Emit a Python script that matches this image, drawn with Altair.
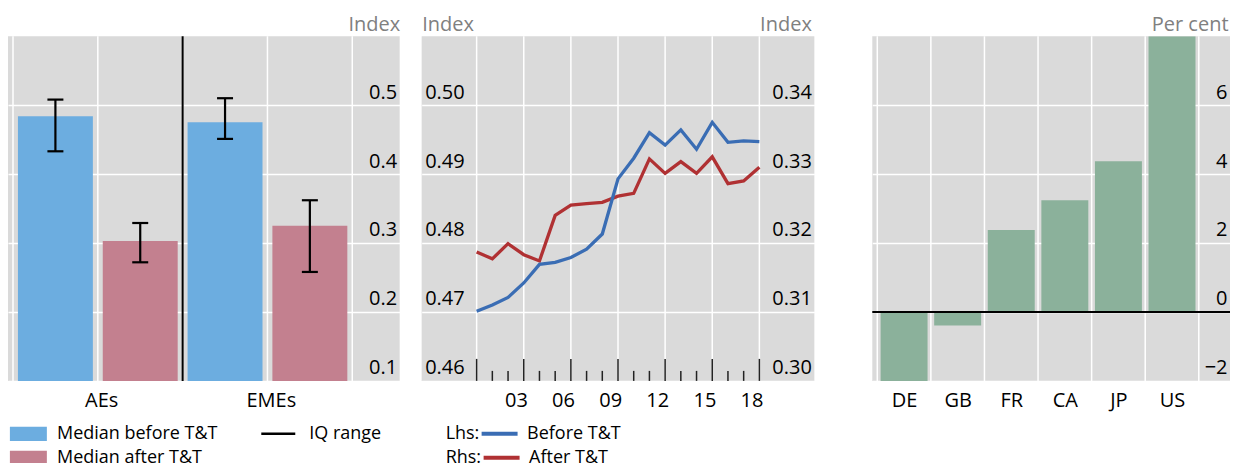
import altair as alt
import pandas as pd

FONT = "Open Sans"
FS = 20
FS_LEG = 18
GREY_BG = "#dadada"
TITLE_GREY = "#808080"
BLUE_BAR = "#6cade0"
PINK_BAR = "#c3808f"
GREEN_BAR = "#8bb19b"
BLUE_LINE = "#3a6db4"
RED_LINE = "#b03133"
SYM_SIZE = 196  # symbol layout box 14 px; the paths below draw the real shapes
RECT_PATH = "M-2.643,-1.021H2.643V1.021H-2.643Z"
LINE36_PATH = "M-2.571,0H2.571"
LINE34_PATH = "M-2.429,0H2.429"

# ---------------- Left panel data ----------------
bar_series = ["Median before T&T", "Median after T&T", "Median before T&T", "Median after T&T"]
bar_pos = [0.5, 1.5, 2.5, 3.5]
bar_median = [0.484, 0.303, 0.475, 0.325]
bar_iq_low = [0.433, 0.272, 0.451, 0.258]
bar_iq_high = [0.508, 0.329, 0.510, 0.362]
group_names = ["AEs", "EMEs"]
group_pos = [1.04, 3.04]
group_separator = [2]
left_grid_x = [0, 1, 2, 3, 4]
left_ticks = [0.1, 0.2, 0.3, 0.4, 0.5]

# ---------------- Middle panel data ----------------
years = list(range(2000, 2019))
before_tt = [0.4701, 0.4710, 0.4721, 0.4742, 0.4769, 0.4772, 0.4779, 0.4791, 0.4813, 0.4893,
             0.4923, 0.4960, 0.4942, 0.4964, 0.4936, 0.4975, 0.4946, 0.4948, 0.4947]
after_tt = [0.3187, 0.3177, 0.3199, 0.3183, 0.3174, 0.3240, 0.3255, 0.3257, 0.3259, 0.3268,
            0.3272, 0.3322, 0.3301, 0.3318, 0.3301, 0.3325, 0.3286, 0.3290, 0.3310]
year_labels = ["03", "06", "09", "12", "15", "18"]
year_label_pos = [2002.5, 2005.5, 2008.5, 2011.5, 2014.5, 2017.5]
mid_grid_x = [2000, 2003, 2006, 2009, 2012, 2015, 2018]
lhs_ticks = [0.46, 0.47, 0.48, 0.49, 0.50]
rhs_ticks = [0.30, 0.31, 0.32, 0.33, 0.34]

# ---------------- Right panel data ----------------
countries = ["DE", "GB", "FR", "CA", "JP", "US"]
country_pos = [0.5, 1.5, 2.5, 3.5, 4.5, 5.5]
country_change = [-2.0, -0.39, 2.38, 3.24, 4.37, 8.0]
right_grid_x = [0, 1, 2, 3, 4, 5, 6]
right_ticks = [-2, 0, 2, 4, 6]
baseline = [0]

PANEL_H = 345
RIGHT_W = 358
PANEL_VIEW = alt.ViewBackground(fill=GREY_BG, stroke=None)


def label_expr(positions, labels):
    expr = "''"
    for p, l in reversed(list(zip(positions, labels))):
        expr = f"(abs(datum.value - {p}) < 0.001 ? '{l}' : {expr})"
    return expr


def y_axis(values, fmt, orient, title, grid=True, title_dx=0):
    left = orient == "left"
    return alt.Axis(
        orient=orient, values=values, format=fmt, title=title,
        grid=grid, gridColor="white", gridWidth=1.5,
        domain=False, ticks=False, tickSize=0,
        labelAlign="left" if left else "right", labelPadding=-3,
        labelBaseline="alphabetic", labelOffset=-7,
        labelFontSize=FS, labelColor="black", labelOverlap=False, labelFlush=False,
        titleAngle=0, titleX=title_dx, titleY=-6,
        titleAlign="left" if left else "right", titleBaseline="alphabetic",
        titleFontSize=FS, titleFontWeight="normal", titleColor=TITLE_GREY,
    )


def x_axis(values, labels):
    return alt.Axis(
        orient="bottom", values=values, labelExpr=label_expr(values, labels),
        grid=False, domain=False, ticks=False, tickSize=0,
        labelPadding=26, labelBaseline="alphabetic", labelFontSize=FS,
        labelColor="black", labelAngle=0, title=None,
        labelOverlap=False, labelFlush=False,
    )


def legend(x, y, symbol, title=None, stroke_w=None, label_offset=20, title_pad=11):
    kw = dict(orient="none", legendX=x, legendY=y, symbolType=symbol, symbolSize=SYM_SIZE,
              labelFontSize=FS_LEG, labelColor="black", labelOffset=label_offset, padding=0,
              symbolOpacity=1, labelLimit=400)
    if title:
        kw.update(title=title, titleOrient="left", titleFontSize=FS_LEG, titleFontWeight="normal",
                  titleColor="black", titlePadding=title_pad, titleAnchor="middle",
                  titleBaseline="middle")
    else:
        kw.update(title=None)
    if stroke_w:
        kw["symbolStrokeWidth"] = stroke_w
    return alt.Legend(**kw)


ROW1_Y = 389
ROW2_Y = 413

# ---------------- Left panel ----------------
left_df = pd.DataFrame({"series": bar_series, "pos": bar_pos, "median": bar_median,
                        "low": bar_iq_low, "high": bar_iq_high})
left_df["iq"] = "IQ range"
xl = alt.Scale(domain=[0, 4.5])
yl = alt.Scale(domain=[0.1, 0.6], zero=False)
xl_axis = x_axis(group_pos, group_names)
yl_axis = y_axis(left_ticks, ".1f", "right", "Index")

grid_l = alt.Chart(pd.DataFrame({"g": left_grid_x})).mark_rule(color="white", strokeWidth=1.5).encode(
    x=alt.X("g:Q", scale=xl, axis=xl_axis))

before_bars = alt.Chart(left_df).transform_filter(alt.datum.series == bar_series[0]).mark_bar(
    size=75, clip=True).encode(
    x=alt.X("pos:Q", scale=xl, axis=xl_axis),
    y=alt.Y("median:Q", scale=yl, axis=yl_axis),
    color=alt.Color("series:N", scale=alt.Scale(domain=[bar_series[0]], range=[BLUE_BAR]),
                    legend=legend(11.4, ROW1_Y, RECT_PATH, label_offset=19.7)),
)
after_bars = alt.Chart(left_df).transform_filter(alt.datum.series == bar_series[1]).mark_bar(
    size=75, clip=True).encode(
    x=alt.X("pos:Q", scale=xl, axis=xl_axis),
    y=alt.Y("median:Q", scale=yl, axis=yl_axis),
    color=alt.Color("series:N", scale=alt.Scale(domain=[bar_series[1]], range=[PINK_BAR]),
                    legend=legend(11.4, ROW2_Y, RECT_PATH, label_offset=19.7)),
)
separator = alt.Chart(pd.DataFrame({"sep": group_separator})).mark_rule(
    color="black", strokeWidth=2).encode(x=alt.X("sep:Q", scale=xl, axis=xl_axis))
iq_rule = alt.Chart(left_df).mark_rule(strokeWidth=2.2).encode(
    x=alt.X("pos:Q", scale=xl, axis=xl_axis),
    y=alt.Y("low:Q", scale=yl, axis=yl_axis),
    y2="high:Q",
    color=alt.Color("iq:N", scale=alt.Scale(domain=["IQ range"], range=["black"]),
                    legend=legend(261.5, ROW1_Y, LINE34_PATH, stroke_w=2.5, label_offset=22)),
)
caps_low = alt.Chart(left_df).mark_point(shape="stroke", size=256, strokeWidth=2.2,
                                         color="black", opacity=1).encode(
    x=alt.X("pos:Q", scale=xl, axis=xl_axis), y=alt.Y("low:Q", scale=yl, axis=yl_axis))
caps_high = alt.Chart(left_df).mark_point(shape="stroke", size=256, strokeWidth=2.2,
                                          color="black", opacity=1).encode(
    x=alt.X("pos:Q", scale=xl, axis=xl_axis), y=alt.Y("high:Q", scale=yl, axis=yl_axis))

left = alt.layer(grid_l, before_bars, after_bars, separator, iq_rule, caps_low, caps_high).resolve_scale(
    color="independent").properties(width=392, height=PANEL_H, view=PANEL_VIEW)

# ---------------- Middle panel ----------------
mid_df = pd.DataFrame({"year": years, "before": before_tt, "after": after_tt})
mid_df["lhs"] = "Before T&T"
mid_df["rhs"] = "After T&T"
xm = alt.Scale(domain=[1996.5, 2021.5])
xm_axis = x_axis(year_label_pos, year_labels)

grid_m = alt.Chart(pd.DataFrame({"g": mid_grid_x})).mark_rule(color="white", strokeWidth=1.5).encode(
    x=alt.X("g:Q", scale=xm, axis=xm_axis))
ticks_df = pd.DataFrame({"year": years})
long_ticks = alt.Chart(ticks_df).transform_filter("(datum.year - 2000) % 3 == 0").mark_rule(
    color="#222222", strokeWidth=1.5).encode(
    x=alt.X("year:Q", scale=xm, axis=xm_axis), y=alt.value(PANEL_H - 22), y2=alt.value(PANEL_H))
short_ticks = alt.Chart(ticks_df).transform_filter("(datum.year - 2000) % 3 != 0").mark_rule(
    color="#222222", strokeWidth=1.5).encode(
    x=alt.X("year:Q", scale=xm, axis=xm_axis), y=alt.value(PANEL_H - 10), y2=alt.value(PANEL_H))
red_line = alt.Chart(mid_df).mark_line(strokeWidth=3.3).encode(
    x=alt.X("year:Q", scale=xm, axis=xm_axis),
    y=alt.Y("after:Q", scale=alt.Scale(domain=[0.30, 0.35], zero=False),
            axis=y_axis(rhs_ticks, ".2f", "right", "Index", grid=False, title_dx=-3)),
    color=alt.Color("rhs:N", scale=alt.Scale(domain=["After T&T"], range=[RED_LINE]),
                    legend=legend(24, ROW2_Y, LINE36_PATH, title="Rhs:", stroke_w=4, label_offset=18.5)),
)
blue_line = alt.Chart(mid_df).mark_line(strokeWidth=3.3).encode(
    x=alt.X("year:Q", scale=xm, axis=xm_axis),
    y=alt.Y("before:Q", scale=alt.Scale(domain=[0.46, 0.51], zero=False),
            axis=y_axis(lhs_ticks, ".2f", "left", "Index")),
    color=alt.Color("lhs:N", scale=alt.Scale(domain=["Before T&T"], range=[BLUE_LINE]),
                    legend=legend(24, ROW1_Y, LINE36_PATH, title="Lhs:", stroke_w=4, label_offset=18.5)),
)
middle = alt.layer(grid_m, long_ticks, short_ticks, red_line, blue_line).resolve_scale(
    y="independent", color="independent").properties(width=393, height=PANEL_H, view=PANEL_VIEW)

# ---------------- Spacer ----------------
spacer = alt.Chart(pd.DataFrame({"s": [0]})).mark_point(opacity=0).properties(
    width=14, height=PANEL_H, view=alt.ViewBackground(fill=None, stroke=None))

# ---------------- Right panel ----------------
right_df = pd.DataFrame({"country": countries, "pos": country_pos, "change": country_change})
xr = alt.Scale(domain=[0, RIGHT_W / 55.17])
yr = alt.Scale(domain=[-2, 8])
xr_axis = x_axis(country_pos, countries)
yr_axis = y_axis(right_ticks, "d", "right", "Per cent", title_dx=-2)
grid_r = alt.Chart(pd.DataFrame({"g": right_grid_x})).mark_rule(color="white", strokeWidth=1.5).encode(
    x=alt.X("g:Q", scale=xr, axis=xr_axis))
bars_r = alt.Chart(right_df).mark_bar(size=47, color=GREEN_BAR, clip=True).encode(
    x=alt.X("pos:Q", scale=xr, axis=xr_axis),
    y=alt.Y("change:Q", scale=yr, axis=yr_axis),
)
zero_r = alt.Chart(pd.DataFrame({"z": baseline})).mark_rule(color="black", strokeWidth=2).encode(
    y=alt.Y("z:Q", scale=yr, axis=yr_axis))
right = alt.layer(grid_r, bars_r, zero_r).properties(width=RIGHT_W, height=PANEL_H, view=PANEL_VIEW)

chart = alt.hconcat(left, middle, spacer, right, spacing=22, bounds="flush").properties(
    padding={"top": 6, "left": 0, "right": 0, "bottom": -4}
).configure(font=FONT).configure_view(stroke=None)

chart.save("out.html", embed_options={"renderer": "svg", "actions": False})
